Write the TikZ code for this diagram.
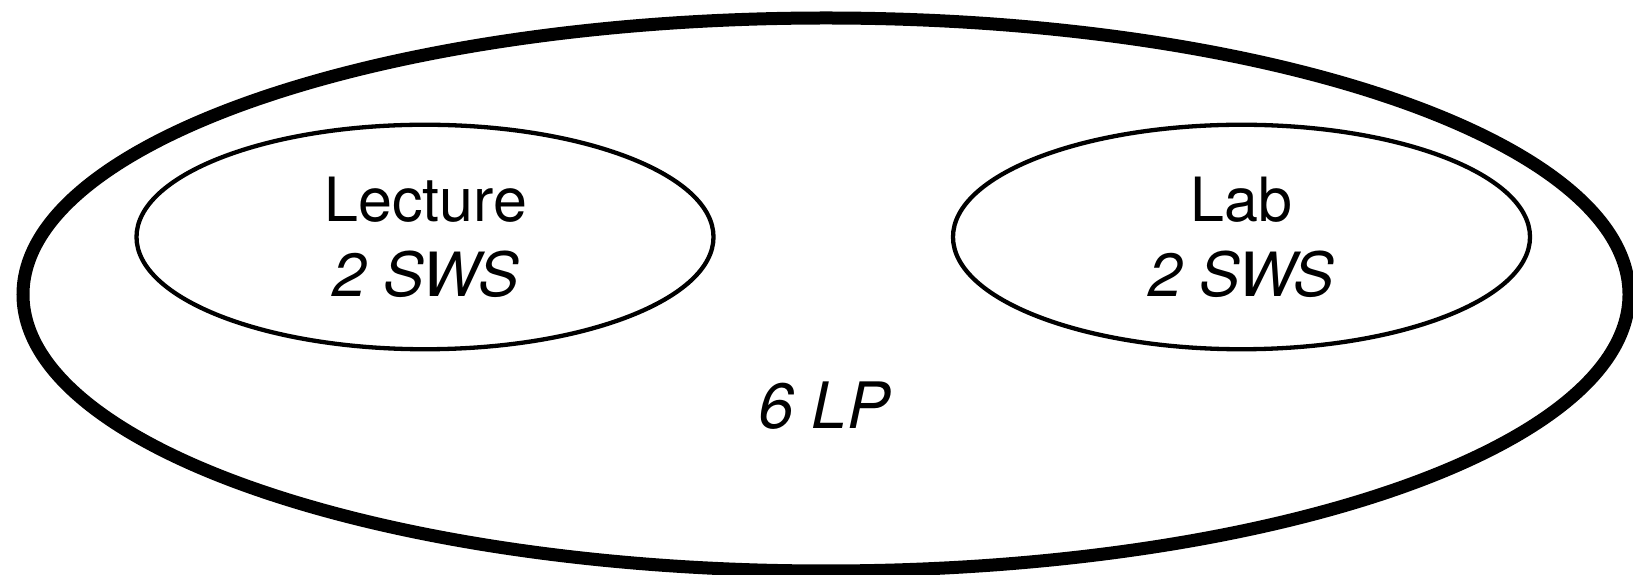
\documentclass[tikz,border=0pt]{standalone}
\usepackage{fontspec}
\setmainfont{TeX Gyre Heros}
\usetikzlibrary{shapes.geometric}
\tikzset{
  outerell/.style={draw, ellipse, line width=13pt, inner sep=0pt, minimum width=1606pt, minimum height=553pt},
  innerell/.style={draw, ellipse, line width=4.3pt, inner sep=0pt, minimum width=577pt, minimum height=224.5pt},
  lbl/.style={anchor=base, inner sep=0pt, font=\fontsize{61}{75}\selectfont},
  biglbl/.style={anchor=base, inner sep=0pt, font=\fontsize{64}{78}\selectfont\itshape}
}
\begin{document}
\begin{tikzpicture}[x=1pt,y=1pt]
\useasboundingbox (0,0) rectangle (1633,575);
\node[outerell] (outer) at (826,280.5) {};
\node[innerell] (lecture) at (425,338) {};
\node[innerell] (lab) at (1241.5,338) {};
\node[lbl] (lectxt) at (425.8,353.3) {Lecture};
\node[lbl] (lecsws) at (425.8,278.3) {\itshape 2 SWS};
\node[lbl] (labtxt) at (1241.5,353.3) {Lab};
\node[lbl] (labsws) at (1241.5,278.3) {\itshape 2 SWS};
\node[biglbl] (lp) at (824,146) {6 LP};
\end{tikzpicture}
\end{document}
